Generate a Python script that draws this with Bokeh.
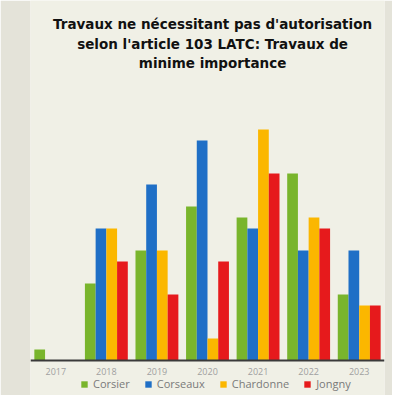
from bokeh.plotting import figure
from bokeh.models import ColumnDataSource, FactorRange, Range1d
from bokeh.core.properties import value
from bokeh.transform import dodge
from bokeh.embed import file_html
from bokeh.resources import INLINE

years = ["2017", "2018", "2019", "2020", "2021", "2022", "2023"]
corsier = [1, 7, 10, 14, 13, 17, 6]
corseaux = [0, 12, 16, 20, 12, 10, 10]
chardonne = [0, 12, 10, 2, 21, 13, 5]
jongny = [0, 9, 6, 9, 17, 12, 5]
series = ["Corsier", "Corseaux", "Chardonne", "Jongny"]
colors = ["#79b52c", "#1f6fc6", "#fbb700", "#e61a1c"]
title_lines = ["Travaux ne nécessitant pas d'autorisation",
               "selon l'article 103 LATC: Travaux de",
               "minime importance"]

source = ColumnDataSource(dict(year=years, Corsier=corsier, Corseaux=corseaux,
                               Chardonne=chardonne, Jongny=jongny))

p = figure(x_range=FactorRange(*years), y_range=Range1d(-3.18, 32.73),
           width=392, height=395, output_backend="svg", toolbar_location=None,
           min_border_left=30, min_border_right=8, min_border_top=0,
           min_border_bottom=0,
           background_fill_color="#f0f0e6", border_fill_color="#e4e3d9")

offsets = [-0.318, -0.106, 0.106, 0.318]
for name, off, col in zip(series, offsets, colors):
    p.vbar(x=dodge("year", off, range=p.x_range), top=name, width=0.212,
           source=source, fill_color=col, line_color=None, legend_label=name)

tsrc = ColumnDataSource(dict(x=[3.6, 3.6, 3.6], y=[30.55, 28.73, 27.09],
                             t=title_lines))
p.text(x="x", y="y", text="t", source=tsrc, text_align="center",
       text_baseline="middle", text_font=value("DejaVu Sans"),
       text_font_style="bold", text_font_size="13.5px", text_color="#111111")

p.yaxis.visible = False
p.xgrid.visible = False
p.ygrid.visible = False
p.outline_line_color = None
p.xaxis.fixed_location = 0
p.xaxis.axis_line_color = "#3a3a3a"
p.xaxis.axis_line_width = 2
p.xaxis.major_tick_line_color = None
p.xaxis.minor_tick_line_color = None
p.xaxis.major_label_text_color = "#a0a0a0"
p.xaxis.major_label_text_font = "Open Sans"
p.xaxis.major_label_text_font_size = "9px"
p.xaxis.major_label_standoff = 1

legend = p.legend[0]
legend.orientation = "horizontal"
legend.location = (50, 4)
legend.background_fill_alpha = 0
legend.border_line_color = None
legend.glyph_width = 8
legend.glyph_height = 8
legend.label_standoff = 5
legend.spacing = 14
legend.padding = 2
legend.margin = 0
legend.label_text_font = "Open Sans"
legend.label_text_font_size = "11px"
legend.label_text_color = "#7a7a7a"

open("out.html", "w").write(file_html(p, INLINE))
